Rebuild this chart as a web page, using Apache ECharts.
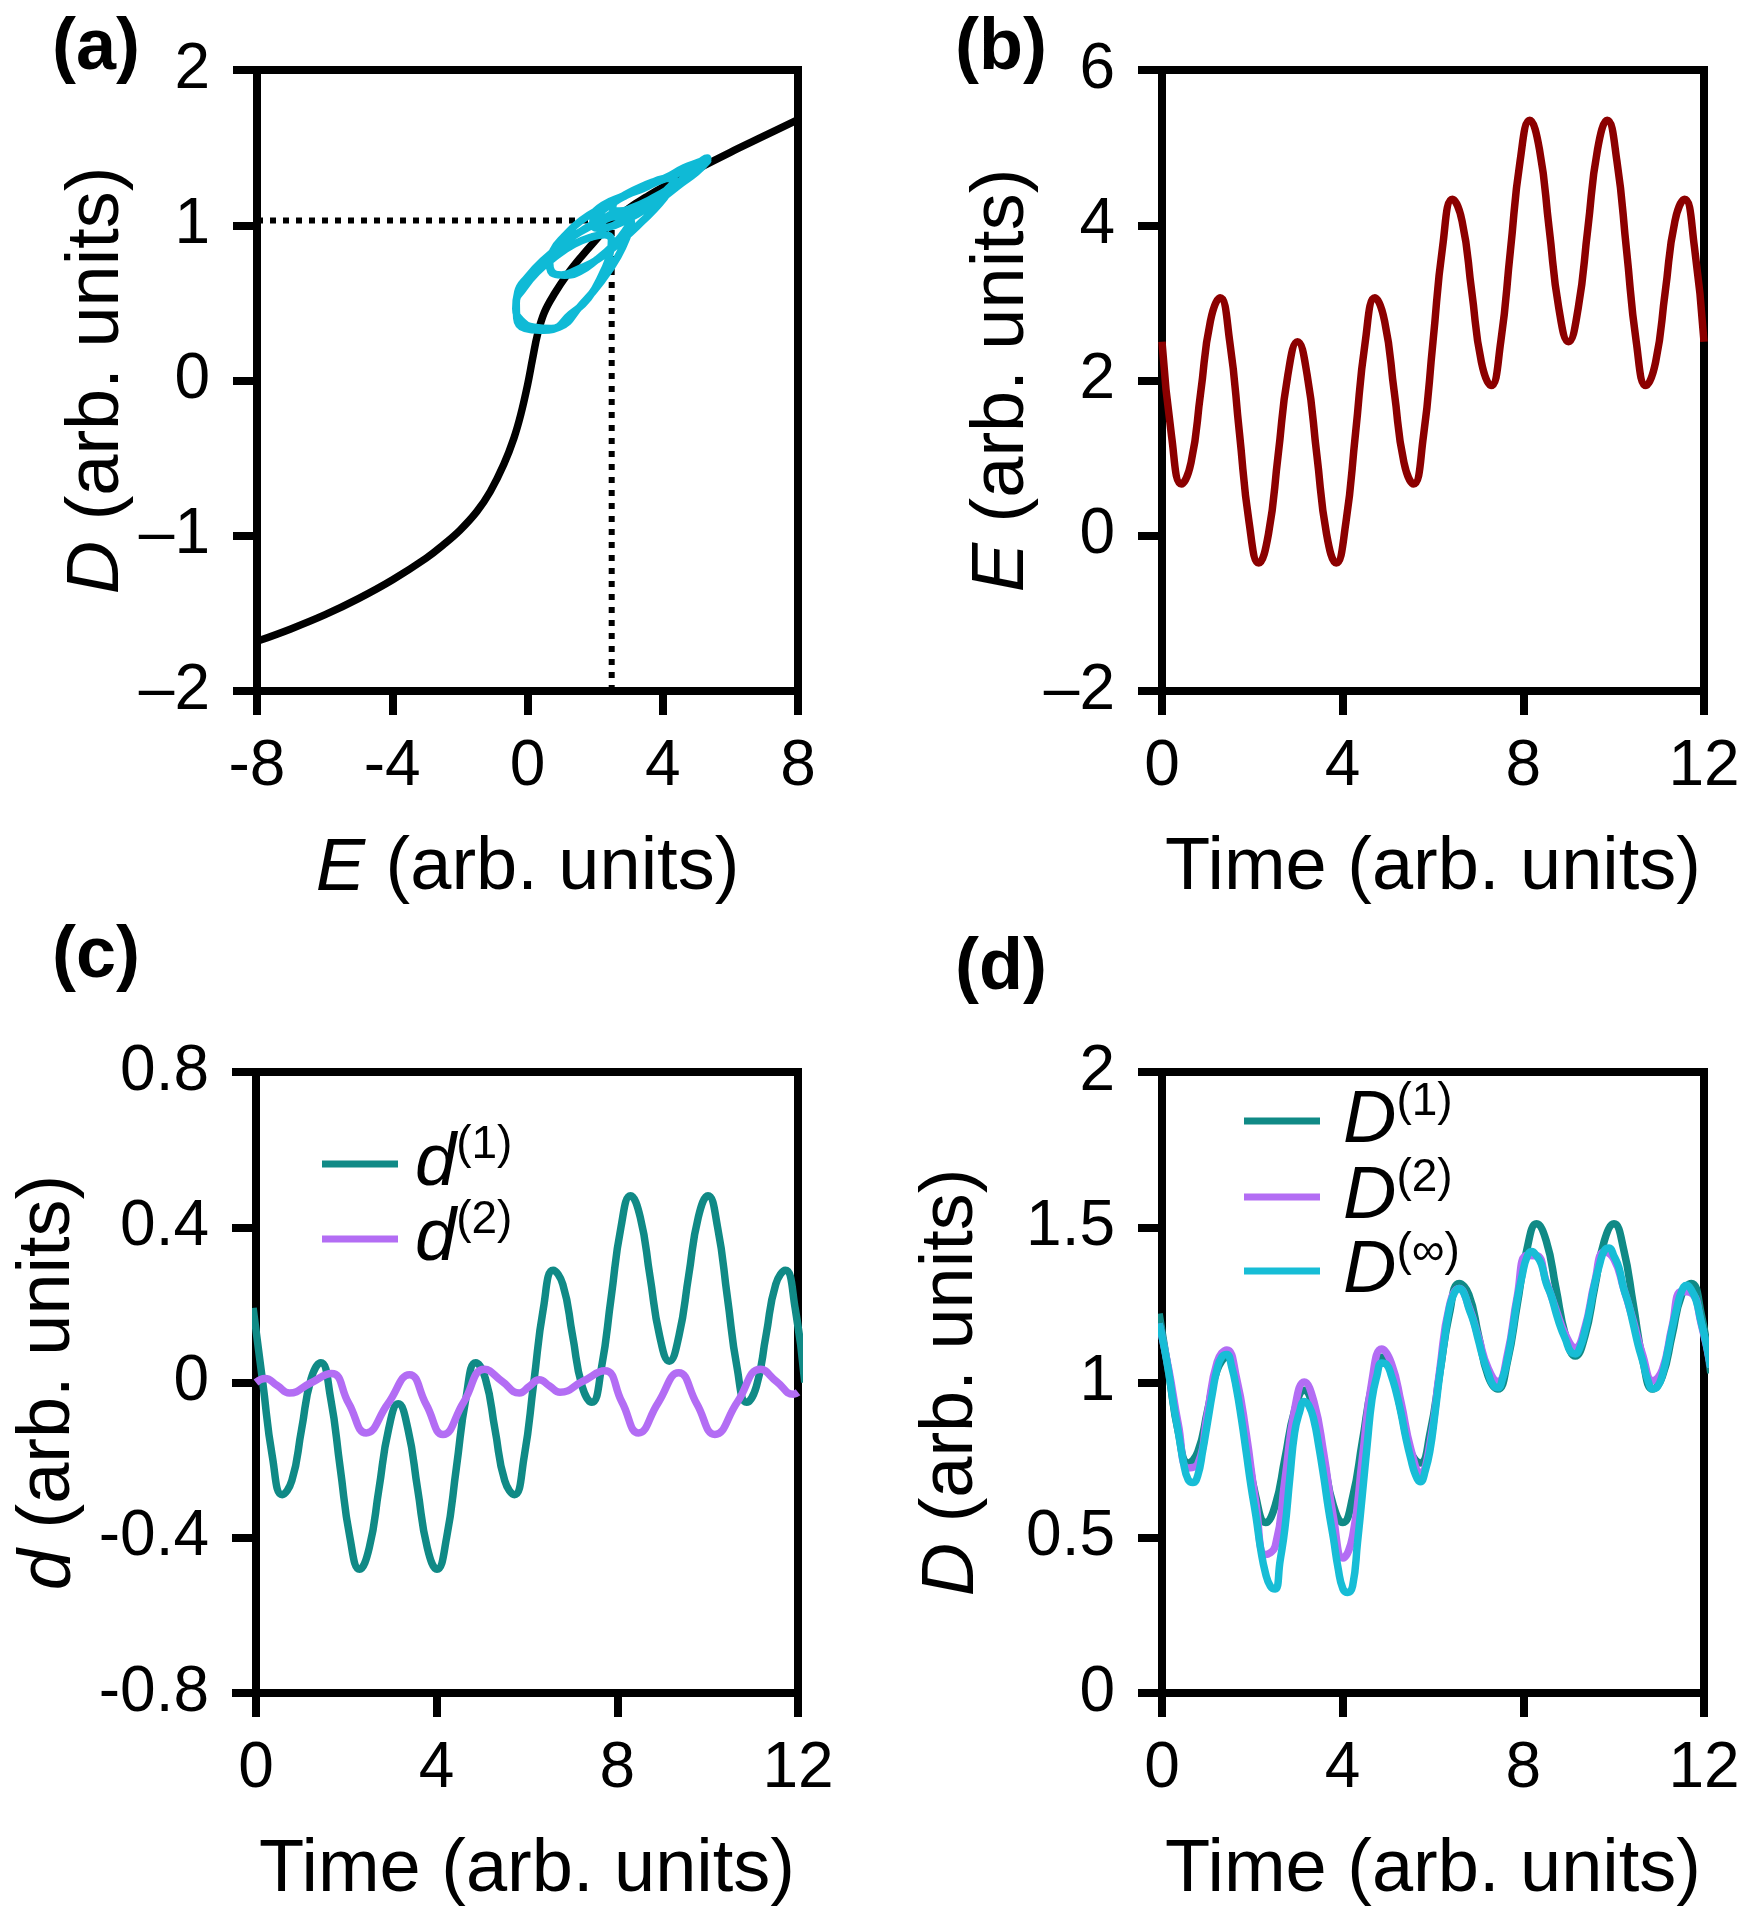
<!DOCTYPE html>
<html>
<head>
<meta charset="utf-8">
<script src="https://cdn.jsdelivr.net/npm/echarts@6/dist/echarts.min.js"></script>
<style>html,body{margin:0;padding:0;background:#fff}#main{width:1748px;height:1920px}</style>
</head>
<body>
<div id="main"></div>
<script>
// ---- panel (a): static D(E) curve ----
const staticE = [-8,-7,-6,-5,-4,-3,-2.5,-2,-1.5,-1.1,-0.7,-0.4,-0.2,0,0.15,0.3,0.5,0.8,1.2,1.6,2.0,2.5,3,3.5,4,5,6,7,8];
const staticD = [-1.68,-1.60,-1.51,-1.405,-1.285,-1.145,-1.06,-0.965,-0.845,-0.715,-0.54,-0.37,-0.22,-0.03,0.14,0.30,0.44,0.56,0.69,0.80,0.90,1.02,1.11,1.18,1.245,1.36,1.47,1.575,1.68];
const biasE = 2.49, biasD = 1.03;

// ---- panel (b): field E(t) ----
const timeE = [0,0.214,0.429,0.643,0.857,1.071,1.286,1.500,1.714,1.929,2.143,2.357,2.571,2.786,3.000,3.214,3.429,3.643,3.857,4.071,4.286,4.500,4.714,4.929,5.143,5.357,5.571,5.786,6.000,6.214,6.429,6.643,6.857,7.071,7.286,7.500,7.714,7.929,8.143,8.357,8.571,8.786,9.000,9.214,9.429,9.643,9.857,10.071,10.286,10.500,10.714,10.929,11.143,11.357,11.571,11.786,12.000];
const fieldE = [2.500,1.271,0.666,0.944,1.849,2.763,3.065,2.500,1.327,0.169,-0.352,0.023,1.038,2.070,2.500,2.070,1.038,0.023,-0.352,0.169,1.327,2.500,3.065,2.763,1.849,0.944,0.666,1.271,2.500,3.729,4.334,4.056,3.151,2.237,1.935,2.500,3.673,4.831,5.352,4.977,3.962,2.930,2.500,2.930,3.962,4.977,5.352,4.831,3.673,2.500,1.935,2.237,3.151,4.056,4.334,3.729,2.500];

// ---- first-order response and D(1), D(2) at response times ----
const timeResp = [-0.064,0.150,0.364,0.579,0.793,1.007,1.221,1.436,1.650,1.864,2.079,2.293,2.507,2.721,2.936,3.150,3.364,3.579,3.793,4.007,4.221,4.436,4.650,4.864,5.079,5.293,5.507,5.721,5.936,6.150,6.364,6.579,6.793,7.007,7.221,7.436,7.650,7.864,8.079,8.293,8.507,8.721,8.936,9.150,9.364,9.579,9.793,10.007,10.221,10.436,10.650,10.864,11.079,11.293,11.507,11.721,11.936,12.150];
const d1 = [0.192,0.000,-0.192,-0.289,-0.253,-0.122,0.010,0.051,-0.039,-0.220,-0.399,-0.481,-0.426,-0.275,-0.120,-0.055,-0.120,-0.275,-0.426,-0.481,-0.399,-0.220,-0.039,0.051,0.010,-0.122,-0.253,-0.289,-0.192,0.000,0.192,0.289,0.253,0.122,-0.010,-0.051,0.039,0.220,0.399,0.481,0.426,0.275,0.120,0.055,0.120,0.275,0.426,0.481,0.399,0.220,0.039,-0.051,-0.010,0.122,0.253,0.289,0.192,0.000];
const D1 = [1.222,1.030,0.838,0.741,0.777,0.908,1.040,1.081,0.991,0.810,0.631,0.549,0.604,0.755,0.910,0.975,0.910,0.755,0.604,0.549,0.631,0.810,0.991,1.081,1.040,0.908,0.777,0.741,0.838,1.030,1.222,1.319,1.283,1.152,1.020,0.979,1.069,1.250,1.429,1.511,1.456,1.305,1.150,1.085,1.150,1.305,1.456,1.511,1.429,1.250,1.069,0.979,1.020,1.152,1.283,1.319,1.222,1.030];
const D2 = [1.190,1.042,0.863,0.725,0.738,0.901,1.066,1.105,1.014,0.836,0.611,0.446,0.473,0.686,0.913,1.002,0.938,0.773,0.568,0.435,0.505,0.757,1.007,1.108,1.062,0.936,0.787,0.710,0.806,1.042,1.247,1.303,1.244,1.145,1.046,1.003,1.092,1.276,1.409,1.408,1.325,1.236,1.153,1.112,1.178,1.323,1.420,1.397,1.303,1.197,1.085,1.006,1.042,1.180,1.293,1.288,1.190,1.049];

// ---- second-order term d(2), own sample times ----
const timeD2 = [0,0.2,0.47,0.74,1.2,1.67,2.05,2.44,2.92,3.4,3.77,4.14,4.6,5.06,5.45,5.83,6.05,6.27,6.5,6.73,7.22,7.72,8.1,8.47,8.9,9.36,9.76,10.16,10.66,11.17,11.53,11.9,12];
const d2 = [0.0,0.01,-0.008,-0.027,-0.002,0.023,-0.053,-0.13,-0.055,0.02,-0.057,-0.134,-0.05,0.034,0.003,-0.027,-0.01,0.007,-0.009,-0.025,0.002,0.03,-0.05,-0.13,-0.053,0.025,-0.055,-0.134,-0.05,0.034,0.002,-0.03,-0.025];

// ---- full response D(inf) and field at the same (finer) times ----
const timeFine = [-0.064,0.043,0.150,0.257,0.364,0.471,0.579,0.686,0.793,0.900,1.007,1.114,1.221,1.329,1.436,1.543,1.650,1.757,1.864,1.971,2.079,2.186,2.293,2.400,2.507,2.614,2.721,2.829,2.936,3.043,3.150,3.257,3.364,3.471,3.579,3.686,3.793,3.900,4.007,4.114,4.221,4.329,4.436,4.543,4.650,4.757,4.864,4.971,5.079,5.186,5.293,5.400,5.507,5.614,5.721,5.829,5.936,6.043,6.150,6.257,6.364,6.471,6.579,6.686,6.793,6.900,7.007,7.114,7.221,7.329,7.436,7.543,7.650,7.757,7.864,7.971,8.079,8.186,8.293,8.400,8.507,8.614,8.721,8.829,8.936,9.043,9.150,9.257,9.364,9.471,9.579,9.686,9.793,9.900,10.007,10.114,10.221,10.329,10.436,10.543,10.650,10.757,10.864,10.971,11.079,11.186,11.293,11.400,11.507,11.614,11.721,11.829,11.936,12.043,12.150];
const fieldFine = [2.900,2.232,1.598,1.085,0.757,0.652,0.773,1.091,1.545,2.054,2.529,2.887,3.064,3.020,2.755,2.297,1.709,1.072,0.473,-0.001,-0.288,-0.347,-0.177,0.192,0.700,1.265,1.800,2.220,2.460,2.482,2.284,1.895,1.377,0.811,0.284,-0.118,-0.332,-0.318,-0.075,0.366,0.946,1.583,2.189,2.676,2.985,3.073,2.939,2.612,2.154,1.645,1.173,0.823,0.658,0.718,1.003,1.484,2.100,2.768,3.402,3.915,4.243,4.348,4.227,3.909,3.455,2.946,2.471,2.113,1.936,1.980,2.245,2.703,3.291,3.928,4.527,5.001,5.288,5.347,5.177,4.808,4.300,3.735,3.200,2.781,2.540,2.518,2.716,3.105,3.623,4.189,4.716,5.118,5.332,5.318,5.075,4.634,4.054,3.417,2.811,2.324,2.015,1.927,2.061,2.388,2.846,3.355,3.827,4.177,4.342,4.282,3.997,3.516,2.900,2.232,1.834];
const DinfFine = [1.190,1.118,1.032,0.928,0.838,0.746,0.687,0.678,0.701,0.779,0.871,0.964,1.044,1.083,1.090,1.050,0.979,0.884,0.776,0.666,0.570,0.462,0.385,0.344,0.335,0.425,0.530,0.691,0.838,0.904,0.939,0.924,0.878,0.795,0.698,0.592,0.500,0.401,0.335,0.324,0.345,0.485,0.640,0.800,0.947,1.021,1.063,1.058,1.022,0.968,0.901,0.821,0.755,0.702,0.680,0.716,0.784,0.899,1.027,1.141,1.240,1.288,1.303,1.287,1.239,1.195,1.135,1.077,1.031,0.992,0.983,1.014,1.077,1.165,1.266,1.343,1.404,1.422,1.408,1.381,1.320,1.281,1.226,1.176,1.138,1.100,1.092,1.114,1.166,1.236,1.318,1.379,1.425,1.433,1.407,1.371,1.303,1.253,1.187,1.120,1.065,1.007,0.980,0.987,1.025,1.093,1.172,1.241,1.295,1.313,1.298,1.263,1.195,1.129,1.049];

const FONT = 'Liberation Sans, Arial, sans-serif';
const C_TEAL = '#108a86', C_PURPLE = '#b36df4', C_CYAN = '#17bdd6', C_LOOP = '#0fbad6', C_RED = '#8c0000';
const LW = 7.5;

const zip = (a, b) => a.map((v, i) => [v, b[i]]);
const dash = v => String(v).replace('-', '\u2013');

const grids = [
  {left: 257, top: 70, width: 541, height: 621},
  {left: 1162, top: 70, width: 542, height: 621},
  {left: 256, top: 1072, width: 542, height: 621},
  {left: 1162, top: 1072, width: 542, height: 621}
].map(g => Object.assign({show: true, borderColor: '#000', borderWidth: 8, containLabel: false}, g));

function axis(idx, opt) {
  return Object.assign({
    type: 'value', gridIndex: idx,
    axisLine: {show: true, onZero: false, lineStyle: {color: '#000', width: 8}},
    axisTick: {show: true, inside: false, length: 24, lineStyle: {color: '#000', width: 8}},
    splitLine: {show: false},
    nameLocation: 'middle',
    nameTextStyle: {color: '#000', fontSize: 74, fontFamily: FONT,
      rich: {i: {fontStyle: 'italic', fontSize: 74, fontFamily: FONT, color: '#000'}}}
  }, opt);
}
const xLabel = {color: '#000', fontSize: 64, fontFamily: FONT, margin: 44};
const yLabel = (fmt) => ({color: '#000', fontSize: 64, fontFamily: FONT, margin: 47, formatter: fmt});

const xAxes = [
  axis(0, {min: -8, max: 8, interval: 4, axisLabel: xLabel, name: '{i|E} (arb. units)', nameGap: 141}),
  axis(1, {min: 0, max: 12, interval: 4, axisLabel: xLabel, name: 'Time (arb. units)', nameGap: 141}),
  axis(2, {min: 0, max: 12, interval: 4, axisLabel: xLabel, name: 'Time (arb. units)', nameGap: 141}),
  axis(3, {min: 0, max: 12, interval: 4, axisLabel: xLabel, name: 'Time (arb. units)', nameGap: 141})
];
const yAxes = [
  axis(0, {min: -2, max: 2, interval: 1, axisLabel: yLabel(dash), name: '{i|D} (arb. units)', nameGap: 122}),
  axis(1, {min: -2, max: 6, interval: 2, axisLabel: yLabel(dash), name: '{i|E} (arb. units)', nameGap: 115}),
  axis(2, {min: -0.8, max: 0.8, interval: 0.4, axisLabel: yLabel(null), name: '{i|d} (arb. units)', nameGap: 170}),
  axis(3, {min: 0, max: 2, interval: 0.5, axisLabel: yLabel(null), name: '{i|D} (arb. units)', nameGap: 173})
];

const lineS = (name, xi, data, color, width, smooth, extra) => Object.assign({
  name: name, type: 'line', xAxisIndex: xi, yAxisIndex: xi, data: data,
  showSymbol: false, symbol: 'none', smooth: smooth, clip: true,
  lineStyle: {color: color, width: width}, itemStyle: {color: color}
}, extra || {});

const series = [
  lineS('static', 0, zip(staticE, staticD), '#000', LW, 0.4),
  lineS('bias', 0, [[-8, biasD], [biasE, biasD], [biasE, -2]], '#000', LW, false,
    {lineStyle: {color: '#000', width: 6, type: [6, 7], cap: 'butt'}}),
  lineS('loop', 0, zip(fieldFine, DinfFine), C_LOOP, LW, 0.5),
  lineS('E', 1, zip(timeE, fieldE), C_RED, LW, 0.5),
  lineS('d1', 2, zip(timeResp, d1), C_TEAL, LW, 0.5),
  lineS('d2', 2, zip(timeD2, d2), C_PURPLE, LW, 0.5),
  lineS('D1', 3, zip(timeResp, D1), C_TEAL, LW, 0.5),
  lineS('D2', 3, zip(timeResp, D2), C_PURPLE, LW, 0.5),
  lineS('Dinf', 3, zip(timeFine, DinfFine), C_CYAN, LW, 0.5)
];

const legendText = {
  d1: '{i|d}{s|(1)}', d2: '{i|d}{s|(2)}',
  D1: '{i|D}{s|(1)}', D2: '{i|D}{s|(2)}', Dinf: '{i|D}{s|(\u221E)}'
};
const mkLegend = (name, left, top, padLeft) => ({
  data: [name], left: left, top: top, orient: 'vertical', selectedMode: false,
  icon: 'rect', itemWidth: 76, itemHeight: 7, itemGap: 0,
  formatter: n => legendText[n],
  textStyle: {color: '#000', fontSize: 74, fontFamily: FONT,
    rich: {
      i: {fontStyle: 'italic', fontSize: 74, lineHeight: 84, fontFamily: FONT, color: '#000', padding: [0, 0, 0, padLeft]},
      s: {fontSize: 46, lineHeight: 46, verticalAlign: 'top', fontFamily: FONT, color: '#000'}
    }}
});
const legends = [
  mkLegend('d1', 317, 1117, 12), mkLegend('d2', 317, 1192, 12),
  mkLegend('D1', 1239, 1074, 18), mkLegend('D2', 1239, 1150, 18), mkLegend('Dinf', 1239, 1224, 18)
];

const titleStyle = {color: '#000', fontSize: 72, fontWeight: 'bold', fontFamily: FONT};
const titles = [
  {text: '(a)', left: 47, top: 8, textStyle: titleStyle},
  {text: '(b)', left: 950, top: 8, textStyle: titleStyle},
  {text: '(c)', left: 47, top: 916, textStyle: titleStyle},
  {text: '(d)', left: 950, top: 928, textStyle: titleStyle}
];

const chart = echarts.init(document.getElementById('main'), null, {renderer: 'canvas'});
chart.setOption({
  animation: false,
  backgroundColor: '#fff',
  title: titles,
  grid: grids,
  xAxis: xAxes,
  yAxis: yAxes,
  legend: legends,
  series: series
});
</script>
</body>
</html>
